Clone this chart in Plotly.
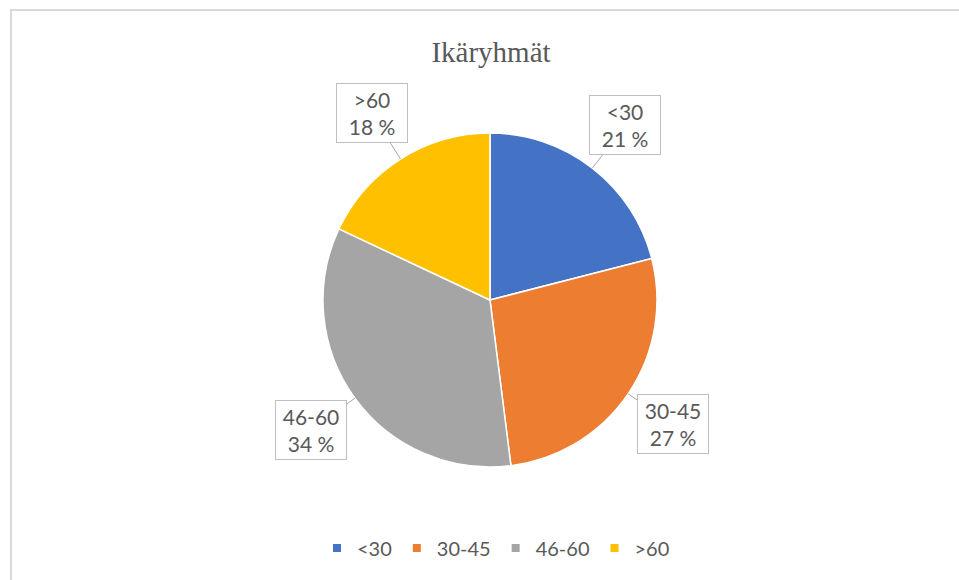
import math
import plotly.graph_objects as go

# ---- data ----
categories = ["<30", "30-45", "46-60", ">60"]
percent_values = [21, 27, 34, 18]
colors = ["#4472C4", "#ED7D31", "#A5A5A5", "#FFC000"]
title_text = "Ikäryhmät"

# ---- layout geometry (pixels) ----
W, H = 959, 580
cx, cy, r = 490, 300, 167
label_dist = 221
text_color = "#595959"

fig = go.Figure()
fig.add_trace(go.Pie(
    labels=categories,
    values=percent_values,
    sort=False,
    direction="clockwise",
    rotation=0,
    marker=dict(colors=colors, line=dict(color="white", width=1.5)),
    textinfo="none",
    hoverinfo="label+percent",
    showlegend=False,
    domain=dict(x=[(cx - r) / W, (cx + r) / W], y=[1 - (cy + r) / H, 1 - (cy - r) / H]),
))

# legend entries with small square markers
for cat, col in zip(categories, colors):
    fig.add_trace(go.Scatter(
        x=[None], y=[None], mode="markers", name=cat,
        marker=dict(symbol="square", size=8, color=col),
        showlegend=True,
    ))

# callout labels computed from slice mid-angles
total = sum(percent_values)
cum = 0
annotations = []
for cat, v in zip(categories, percent_values):
    mid = (cum + v / 2) / total * 2 * math.pi
    cum += v
    px = cx + r * math.sin(mid)
    py = cy - r * math.cos(mid)
    bx = cx + label_dist * math.sin(mid)
    by = cy - label_dist * math.cos(mid)
    annotations.append(dict(
        x=px / W, y=1 - py / H, xref="paper", yref="paper",
        ax=bx - px, ay=by - py, axref="pixel", ayref="pixel",
        text=f"{cat}<br>{round(v / total * 100)} %",
        showarrow=True, arrowhead=0, arrowwidth=1, arrowcolor="#a6a6a6",
        font=dict(family="Lato, Liberation Sans, sans-serif", size=21, color=text_color),
        bordercolor="#bfbfbf", borderwidth=1, borderpad=3, bgcolor="white",
        width=64, align="center",
    ))

fig.update_layout(
    width=W, height=H,
    margin=dict(l=0, r=0, t=0, b=0),
    paper_bgcolor="white", plot_bgcolor="white",
    title=dict(text=title_text, x=491 / W, xanchor="center", y=1 - 52 / H, yanchor="middle",
               font=dict(family="Liberation Serif, Times New Roman, serif", size=29, color=text_color)),
    xaxis=dict(visible=False), yaxis=dict(visible=False),
    legend=dict(orientation="h", x=496 / W, xanchor="center", y=1 - 548 / H, yanchor="middle",
                font=dict(family="Lato, Liberation Sans, sans-serif", size=20, color=text_color),
                itemwidth=30, bgcolor="rgba(0,0,0,0)"),
    annotations=annotations,
    shapes=[dict(type="rect", xref="paper", yref="paper",
                 x0=11 / W, x1=1.02, y0=-0.02, y1=1 - 10 / H,
                 line=dict(color="#d9d9d9", width=2), layer="below")],
)

fig.write_html("out.html", config={"displayModeBar": False},
               post_script="document.body.style.margin='0';")
